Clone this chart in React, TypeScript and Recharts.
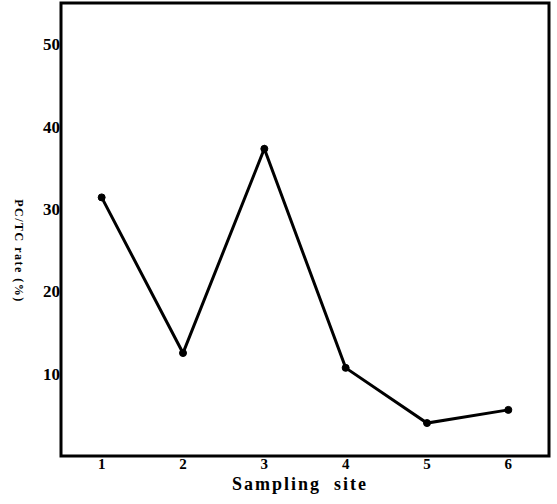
import { LineChart, Line, XAxis, YAxis, ReferenceArea } from "recharts"

const sites = [1, 2, 3, 4, 5, 6]
const pcTcRate = [31.4, 12.5, 37.3, 10.7, 4.0, 5.6]
const yTicks = [10, 20, 30, 40, 50]

const data = sites.map((site, i) => ({ site, rate: pcTcRate[i] }))

const font = "'Liberation Serif', serif"

export default function App() {
  return (
    <div style={{ position: "absolute", left: 0, top: 0, width: 557, height: 504, background: "#fff" }}>
      <LineChart width={557} height={504} data={data} margin={{ top: 3, right: 8, bottom: 18, left: 0 }}>
        <ReferenceArea
          x1={0.5}
          x2={6.5}
          y1={0}
          y2={55}
          fill="none"
          stroke="#000"
          strokeWidth={3}
          ifOverflow="visible"
        />
        <XAxis
          dataKey="site"
          type="number"
          domain={[0.5, 6.5]}
          ticks={sites}
          height={30}
          axisLine={false}
          tickLine={false}
          tickSize={0}
          tickMargin={2}
          tick={{ fill: "#000", fontSize: 15, fontWeight: 700, fontFamily: font }}
          label={() => (
            <text
              x={300}
              y={490}
              textAnchor="middle"
              fill="#000"
              fontSize={18}
              fontWeight={700}
              fontFamily={font}
              letterSpacing={2}
              style={{ whiteSpace: "pre" }}
            >
              Sampling  site
            </text>
          )}
        />
        <YAxis
          type="number"
          domain={[0, 55]}
          ticks={yTicks}
          width={61}
          axisLine={false}
          tickLine={false}
          tickSize={0}
          tickMargin={1}
          tick={{ fill: "#000", fontSize: 17, fontWeight: 700, fontFamily: font }}
          label={() => (
            <text
              x={18}
              y={251}
              transform="rotate(90 18 251)"
              textAnchor="middle"
              dominantBaseline="middle"
              fill="#000"
              fontSize={12}
              fontWeight={700}
              fontFamily={font}
              letterSpacing={1.5}
              style={{ whiteSpace: "pre" }}
            >
              PC/TC rate (%)
            </text>
          )}
        />
        <Line
          type="linear"
          dataKey="rate"
          stroke="#000"
          strokeWidth={3}
          dot={{ r: 3.5, fill: "#000", stroke: "#000", strokeWidth: 1 }}
          isAnimationActive={false}
        />
      </LineChart>
    </div>
  )
}
